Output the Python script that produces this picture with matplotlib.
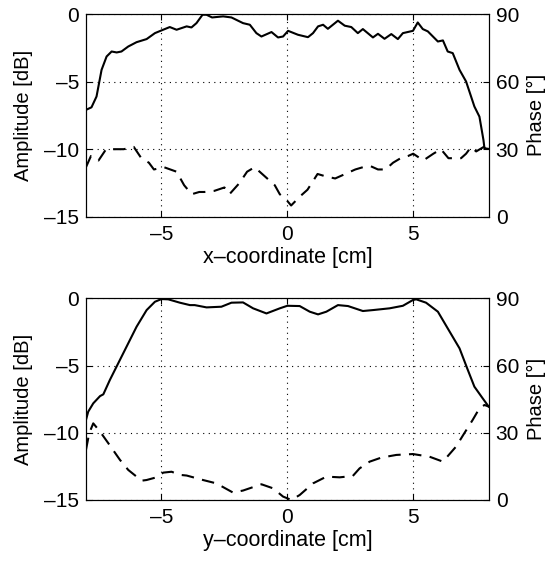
import matplotlib
matplotlib.use('Agg')
import matplotlib.pyplot as plt

plt.rcParams['font.family'] = ['Liberation Sans', 'DejaVu Sans']
plt.rcParams['font.size'] = 15

# top panel: scan along x
x_amp = [-8, -7.78, -7.58, -7.38, -7.18, -6.98, -6.78, -6.59, -6.32, -5.99, -5.59, -5.26,
         -5.0, -4.67, -4.40, -4.0, -3.81, -3.61, -3.37, -3.21, -2.99, -2.55, -2.22, -1.76,
         -1.49, -1.23, -1.03, -0.63, -0.37, -0.17, 0.03, 0.42, 0.82, 1.02, 1.22, 1.42, 1.61,
         2.01, 2.28, 2.54, 2.80, 3.0, 3.40, 3.60, 3.86, 4.13, 4.39, 4.59, 4.99, 5.18, 5.38,
         5.58, 5.98, 6.18, 6.37, 6.57, 6.84, 7.10, 7.43, 7.63, 7.79, 7.83, 8.0]
amp_x = [-7.09, -6.9, -6.1, -4.13, -3.14, -2.77, -2.84, -2.77, -2.40, -2.08, -1.85, -1.41,
         -1.21, -0.96, -1.16, -0.91, -0.99, -0.67, -0.05, -0.05, -0.25, -0.17, -0.25, -0.67,
         -0.79, -1.41, -1.66, -1.33, -1.73, -1.66, -1.24, -1.53, -1.71, -1.41, -0.91, -0.79,
         -1.09, -0.49, -0.86, -0.96, -1.41, -1.11, -1.73, -1.46, -1.83, -1.48, -1.85, -1.41,
         -1.24, -0.62, -1.11, -1.28, -2.03, -1.95, -2.77, -2.89, -4.13, -4.99, -6.84, -7.59,
         -9.32, -9.93, -9.98]

x_ph = [-8, -7.8, -7.5, -7.2, -6.9, -6.5, -6.1, -5.8, -5.5, -5.3, -4.9, -4.4, -4.1, -3.8,
        -3.5, -3.3, -2.9, -2.5, -2.3, -1.9, -1.6, -1.3, -0.8, -0.5, -0.3, 0.0, 0.15, 0.5,
        0.8, 1.2, 1.5, 1.9, 2.3, 2.7, 3.0, 3.3, 3.6, 3.9, 4.2, 4.5, 4.8, 5.0, 5.4, 5.8, 6.1,
        6.4, 6.9, 7.1, 7.3, 7.5, 7.8, 8.0]
ph_x = [22, 27, 25, 30, 30, 30, 31, 26, 24, 21, 22, 20, 14, 10, 11, 11, 11.5, 13, 10, 15,
        20, 22, 17, 14, 10, 7, 5, 9, 12, 19, 18, 17, 19, 21, 22, 22.5, 21, 21, 24, 26, 27,
        28, 25, 28, 30, 26, 26, 28, 31, 29, 31, 29]

# bottom panel: scan along y
y_amp = [-8, -7.91, -7.71, -7.44, -7.31, -7.05, -6.52, -5.99, -5.59, -5.26, -5.0, -4.73,
         -4.27, -3.87, -3.68, -3.21, -2.62, -2.22, -1.76, -1.36, -0.83, -0.30, 0.0, 0.49,
         0.89, 1.22, 1.55, 2.01, 2.41, 3.0, 3.40, 4.06, 4.59, 4.99, 5.12, 5.51, 5.98, 6.37,
         6.84, 7.17, 7.43, 7.76, 8.0]
amp_y = [-9.05, -8.43, -7.81, -7.27, -7.14, -6.07, -4.09, -2.11, -0.87, -0.25, -0.05, -0.07,
         -0.32, -0.50, -0.50, -0.67, -0.62, -0.32, -0.30, -0.74, -1.12, -0.74, -0.55, -0.57,
         -0.99, -1.19, -0.99, -0.50, -0.57, -0.94, -0.87, -0.74, -0.55, -0.12, -0.07, -0.32,
         -0.99, -2.23, -3.72, -5.33, -6.57, -7.44, -8.06]

y_ph = [-8, -7.87, -7.71, -7.44, -7.11, -6.65, -6.32, -5.79, -5.59, -5.2, -4.93, -4.6, -4.27,
        -4.0, -3.35, -2.82, -2.16, -1.76, -1.03, -0.57, -0.17, 0.16, 0.49, 1.02, 1.55, 2.08,
        2.60, 2.87, 3.27, 3.73, 4.33, 4.99, 5.65, 6.18, 6.70, 7.03, 7.36, 7.63, 7.83, 8.0]
ph_y = [22.3, 29.8, 34.2, 30.5, 25.3, 17.9, 13.4, 8.6, 8.9, 10.1, 12.2, 12.6, 11.2, 10.9,
        8.9, 7.4, 3.3, 4.2, 7.0, 5.2, 1.5, 0, 2.2, 7.4, 10.4, 10.1, 10.7, 14.1, 17.1, 18.9,
        20.1, 20.5, 19.3, 17.1, 23.8, 29.8, 35.7, 40.9, 42.4, 41.7]

xticks = [-5, 0, 5]
amp_ticks = [0, -5, -10, -15]
ph_ticks = [0, 30, 60, 90]


def panel(rect, xs, amp, xp, ph, xlabel):
    ax = fig.add_axes(rect)
    ax.plot(xs, amp, color='black', lw=1.5)
    ax.set_xlim(-8, 8)
    ax.set_ylim(-15, 0)
    ax.set_xticks(xticks)
    ax.set_xticklabels([str(t).replace('-', '\u2013') for t in xticks])
    ax.set_yticks(amp_ticks)
    ax.set_yticklabels([str(t).replace('-', '\u2013') for t in amp_ticks])
    ax.grid(True, color='black', linestyle=(0, (1, 4)), linewidth=0.8)
    ax.tick_params(direction='in', length=4, top=True, pad=5)
    ax.tick_params(axis='x', pad=6)
    ax.set_xlabel(xlabel, fontsize=15.5, labelpad=2)
    ax.set_ylabel('Amplitude [dB]', fontsize=14.5, labelpad=8)

    ax2 = ax.twinx()
    ax2.plot(xp, ph, color='black', lw=1.5, dashes=(6, 4))
    ax2.set_ylim(0, 90)
    ax2.set_yticks(ph_ticks)
    ax2.tick_params(direction='in', length=4, pad=5)
    ax2.set_ylabel('Phase [\u00b0]', fontsize=14.5, labelpad=6)
    for a in (ax, ax2):
        for s in a.spines.values():
            s.set_linewidth(0.8)
    return ax


fig = plt.figure(figsize=(5.51, 5.63), dpi=100)
panel([0.156, 0.615, 0.731, 0.360], x_amp, amp_x, x_ph, ph_x, 'x\u2013coordinate [cm]')
panel([0.156, 0.112, 0.731, 0.358], y_amp, amp_y, y_ph, ph_y, 'y\u2013coordinate [cm]')

fig.savefig('out.png', dpi=100)
